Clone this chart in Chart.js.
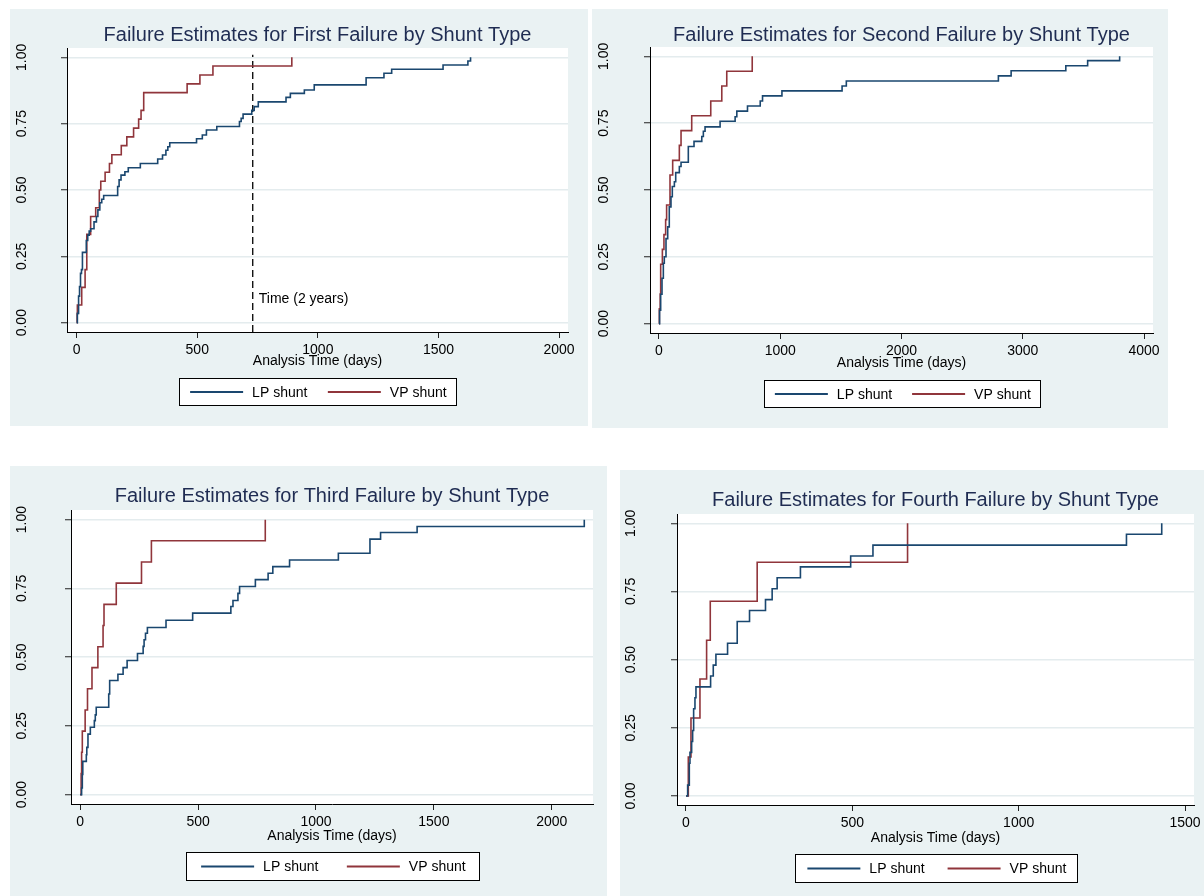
<!DOCTYPE html>
<html>
<head>
<meta charset="utf-8">
<script src="https://cdn.jsdelivr.net/npm/chart.js@4"></script>
<style>
html,body{margin:0;padding:0;background:#fff;}
body{width:1204px;height:896px;position:relative;overflow:hidden;}
canvas{position:absolute;}
</style>
</head>
<body>
<canvas id="c1"></canvas>
<canvas id="c2"></canvas>
<canvas id="c3"></canvas>
<canvas id="c4"></canvas>
<script>
// ---------------- DATA ----------------
const seriesLabels = ['LP shunt', 'VP shunt'];
const chartTitles = [
  'Failure Estimates for First Failure by Shunt Type',
  'Failure Estimates for Second Failure by Shunt Type',
  'Failure Estimates for Third Failure by Shunt Type',
  'Failure Estimates for Fourth Failure by Shunt Type'
];
const xAxisTitle = 'Analysis Time (days)';
const yTicks = [0, 0.25, 0.5, 0.75, 1];
const yTickLabels = ['0.00', '0.25', '0.50', '0.75', '1.00'];
const xTicks1 = [0, 500, 1000, 1500, 2000];
const xTicks2 = [0, 1000, 2000, 3000, 4000];
const xTicks3 = [0, 500, 1000, 1500, 2000];
const xTicks4 = [0, 500, 1000, 1500];

// First failure
const lp1Days = [0,3,8,12,16,20,24,40,46,52,58,72,82,88,96,104,112,170,176,184,200,214,264,336,356,370,378,386,497,521,538,581,675,682,690,726,736,753,868,886,944,985,1200,1274,1306,1519,1622,1633];
const lp1Fail = [0,0.035,0.1,0.136,0.186,0.2,0.265,0.31,0.33,0.345,0.354,0.38,0.4,0.425,0.452,0.465,0.479,0.513,0.538,0.556,0.569,0.584,0.6,0.617,0.632,0.65,0.663,0.678,0.693,0.707,0.726,0.739,0.758,0.77,0.786,0.8,0.814,0.832,0.849,0.864,0.877,0.896,0.923,0.94,0.955,0.971,0.986,1.0];
const vp1Days = [0,2,3,21,35,42,58,79,94,100,118,136,146,185,208,236,257,267,278,458,511,565,892];
const vp1Fail = [0,0.033,0.067,0.133,0.2,0.333,0.4,0.433,0.5,0.533,0.567,0.6,0.633,0.667,0.7,0.733,0.767,0.8,0.867,0.9,0.933,0.967,1.0];

// Second failure
const lp2Days = [0,5,14,25,36,44,58,72,85,99,110,127,138,168,182,242,289,353,366,380,504,628,642,730,835,854,1014,1510,1545,2799,2904,3355,3535,3799];
const lp2Fail = [0,0.05,0.11,0.17,0.226,0.25,0.318,0.362,0.437,0.475,0.513,0.531,0.565,0.588,0.604,0.663,0.682,0.70,0.72,0.736,0.757,0.774,0.795,0.814,0.833,0.852,0.871,0.889,0.908,0.927,0.946,0.965,0.984,1.0];
const vp2Days = [0,3,10,14,28,41,55,63,91,113,168,182,270,427,518,559,769];
const vp2Fail = [0,0.056,0.111,0.222,0.278,0.333,0.389,0.444,0.556,0.611,0.667,0.722,0.778,0.833,0.889,0.944,1.0];

// Third failure
const lp3Days = [0,6,9,11,26,28,33,43,60,64,68,121,125,160,182,199,243,267,271,277,285,364,477,639,648,669,676,743,797,817,888,1095,1229,1274,1429,2138];
const lp3Fail = [0,0.024,0.073,0.121,0.145,0.172,0.22,0.245,0.269,0.29,0.318,0.366,0.415,0.438,0.462,0.488,0.513,0.539,0.563,0.587,0.608,0.634,0.66,0.684,0.706,0.732,0.757,0.782,0.805,0.829,0.853,0.878,0.929,0.953,0.975,1.0];
const vp3Days = [0,4,6,9,21,31,50,75,97,101,153,260,302,785];
const vp3Fail = [0,0.077,0.154,0.231,0.308,0.385,0.462,0.538,0.615,0.692,0.769,0.846,0.923,1.0];

// Fourth failure
const lp4Days = [0,5,10,12,17,20,23,27,30,74,82,90,125,154,191,239,259,274,344,495,562,1324,1430];
const lp4Fail = [0,0.04,0.12,0.16,0.2,0.24,0.32,0.36,0.40,0.44,0.48,0.52,0.56,0.64,0.68,0.72,0.76,0.80,0.84,0.88,0.92,0.96,1.0];
const vp4Days = [0,7,15,42,62,73,214,666];
const vp4Fail = [0,0.143,0.286,0.429,0.571,0.714,0.857,1.0];

// Reference line (2 years) on first panel
const refLineDays = 730;
const refLineLabel = 'Time (2 years)';

// ---------------- STYLE / LAYOUT ----------------
const BLUE = '#1a476f', RED = '#90353b', BG = '#eaf2f3', GRID = '#e4ecee', TITLE = '#1f2c52';
const FONT = '"Liberation Sans", Arial, Helvetica, sans-serif';
Chart.defaults.font.family = FONT;
Chart.defaults.font.size = 14;
Chart.defaults.color = '#000';

const panels = [
  {id:'c1', title:chartTitles[0], xTicks:xTicks1, lp:[lp1Days,lp1Fail], vp:[vp1Days,vp1Fail],
   xMin:-40, xMax:2037, yMin:-0.035, yMax:1.035,
   box:{l:10,t:9,w:578,h:417}, plot:{l:67,r:568,t:48,b:332},
   titleY:35, yLabX:22, tickLabY:350, axisTitleY:361, legend:{t:378,h:27,w:277}, ref:true},
  {id:'c2', title:chartTitles[1], xTicks:xTicks2, lp:[lp2Days,lp2Fail], vp:[vp2Days,vp2Fail],
   xMin:-74, xMax:4074, yMin:-0.035, yMax:1.035,
   box:{l:592,t:9,w:576,h:419}, plot:{l:650,r:1153,t:47,b:333},
   titleY:35, yLabX:604, tickLabY:351, axisTitleY:363, legend:{t:380,h:27,w:276}, ref:false},
  {id:'c3', title:chartTitles[2], xTicks:xTicks3, lp:[lp3Days,lp3Fail], vp:[vp3Days,vp3Fail],
   xMin:-39, xMax:2175, yMin:-0.034, yMax:1.035,
   box:{l:10,t:466,w:597,h:430}, plot:{l:71,r:593,t:510,b:804},
   titleY:496, yLabX:22, tickLabY:822, axisTitleY:836, legend:{t:852,h:28,w:293}, ref:false},
  {id:'c4', title:chartTitles[3], xTicks:xTicks4, lp:[lp4Days,lp4Fail], vp:[vp4Days,vp4Fail],
   xMin:-27, xMax:1527, yMin:-0.033, yMax:1.034,
   box:{l:620,t:470,w:584,h:426}, plot:{l:677,r:1194,t:514,b:805},
   titleY:500, yLabX:631, tickLabY:823, axisTitleY:838, legend:{t:854,h:28,w:282}, ref:false}
];

function pts(days, vals) { return days.map((d, i) => ({x: d, y: vals[i]})); }

const panelBg = {
  id: 'panelBg',
  beforeDraw(chart) {
    const {ctx, chartArea: a} = chart;
    ctx.save();
    ctx.fillStyle = BG;
    ctx.fillRect(0, 0, chart.width, chart.height);
    ctx.fillStyle = '#fff';
    ctx.fillRect(a.left, a.top, a.right - a.left, a.bottom - a.top);
    ctx.restore();
  }
};

const boxLegend = {
  id: 'boxLegend',
  afterDraw(chart, args, opts) {
    const {ctx, chartArea: a} = chart;
    const w = opts.width, h = opts.height, top = opts.top;
    const cx = (a.left + a.right) / 2;
    const left = Math.round(cx - w / 2) + 0.5;
    ctx.save();
    ctx.fillStyle = '#fff';
    ctx.fillRect(left, top + 0.5, w, h);
    ctx.strokeStyle = '#000';
    ctx.lineWidth = 1;
    ctx.strokeRect(left, top + 0.5, w, h);
    const items = chart.data.datasets.filter(d => d.inLegend);
    const half = w / items.length;
    ctx.font = '14px ' + FONT;
    ctx.textBaseline = 'middle';
    ctx.textAlign = 'left';
    items.forEach((ds, i) => {
      const tw = ctx.measureText(ds.label).width;
      const itemW = 53 + 9 + tw;
      const x0 = left + half * i + (half - itemW) / 2;
      const y = top + h / 2 + 0.5;
      ctx.strokeStyle = ds.borderColor;
      ctx.lineWidth = 2;
      ctx.beginPath();
      ctx.moveTo(x0, y);
      ctx.lineTo(x0 + 53, y);
      ctx.stroke();
      ctx.fillStyle = '#000';
      ctx.fillText(ds.label, x0 + 62, y + 1);
    });
    ctx.restore();
  }
};

const refLabel = {
  id: 'refLabel',
  afterDatasetsDraw(chart, args, opts) {
    if (!opts.text) return;
    const {ctx} = chart;
    const x = chart.scales.x.getPixelForValue(opts.x) + 6;
    const y = chart.scales.y.getPixelForValue(opts.y);
    ctx.save();
    ctx.font = '14px ' + FONT;
    ctx.fillStyle = '#000';
    ctx.textAlign = 'left';
    ctx.textBaseline = 'middle';
    ctx.fillText(opts.text, x, y);
    ctx.restore();
  }
};

function buildChart(p) {
  const c = document.getElementById(p.id);
  c.width = p.box.w; c.height = p.box.h;
  c.style.left = p.box.l + 'px'; c.style.top = p.box.t + 'px';
  c.style.width = p.box.w + 'px'; c.style.height = p.box.h + 'px';

  const titleLH = 24, axLH = 14 * 1.2;
  const yW = p.plot.l - p.box.l;
  const padRight = p.box.l + p.box.w - p.plot.r;
  const tTop = p.titleY - p.box.t - titleLH / 2;
  const tBot = p.plot.t - p.titleY - titleLH / 2;
  const xH = p.axisTitleY - p.plot.b + axLH / 2;
  const padBottom = p.box.t + p.box.h - p.plot.b - xH;
  const xTickPad = p.tickLabY - p.plot.b - 6 - axLH / 2;
  const yTickPad = p.plot.l - p.yLabX - 6 - 13.6;

  const datasets = [
    {label: seriesLabels[0], data: pts(p.lp[0], p.lp[1]), borderColor: BLUE, backgroundColor: BLUE,
     borderWidth: 1.6, stepped: 'before', pointRadius: 0, fill: false, inLegend: true},
    {label: seriesLabels[1], data: pts(p.vp[0], p.vp[1]), borderColor: RED, backgroundColor: RED,
     borderWidth: 1.6, stepped: 'before', pointRadius: 0, fill: false, inLegend: true}
  ];
  if (p.ref) {
    datasets.push({label: refLineLabel, data: [{x: refLineDays, y: p.yMin}, {x: refLineDays, y: 1.01}],
      borderColor: '#000', borderWidth: 1.3, borderDash: [7, 4], pointRadius: 0, fill: false, inLegend: false});
  }

  new Chart(c, {
    type: 'line',
    data: {datasets},
    plugins: [panelBg, boxLegend, refLabel],
    options: {
      responsive: false,
      animation: false,
      devicePixelRatio: 1,
      layout: {padding: {left: 0, top: 0, right: padRight, bottom: padBottom}},
      plugins: {
        legend: {display: false},
        tooltip: {enabled: false},
        title: {display: true, text: p.title, color: TITLE, fullSize: false,
                font: {size: 20, weight: 'normal', family: FONT},
                padding: {top: tTop, bottom: tBot}},
        boxLegend: {top: p.legend.t - p.box.t, height: p.legend.h, width: p.legend.w},
        refLabel: p.ref ? {text: refLineLabel, x: refLineDays, y: 0.09} : {text: null}
      },
      scales: {
        x: {
          type: 'linear', min: p.xMin, max: p.xMax,
          afterBuildTicks: s => { s.ticks = p.xTicks.map(v => ({value: v})); },
          afterFit: s => { s.height = xH; s.paddingLeft = 0; s.paddingRight = 0; },
          ticks: {autoSkip: false, minRotation: 0, maxRotation: 0, padding: xTickPad,
                  color: '#000', font: {size: 14}, callback: v => String(v)},
          grid: {display: true, drawOnChartArea: false, drawTicks: true, tickLength: 6,
                 tickColor: '#222', tickWidth: 1},
          border: {display: true, color: '#000', width: 1},
          title: {display: true, text: xAxisTitle, color: '#000', font: {size: 14},
                  padding: {top: 0, bottom: 0}}
        },
        y: {
          type: 'linear', min: p.yMin, max: p.yMax,
          afterBuildTicks: s => { s.ticks = yTicks.map(v => ({value: v})); },
          afterFit: s => { s.width = yW; s.paddingTop = 0; s.paddingBottom = 0; },
          ticks: {autoSkip: false, minRotation: 90, maxRotation: 90, crossAlign: 'center',
                  padding: yTickPad, color: '#000', font: {size: 14},
                  callback: (v, i) => yTickLabels[i]},
          grid: {color: GRID, lineWidth: 1.5, drawTicks: true, tickLength: 6,
                 tickColor: '#222', tickWidth: 1},
          border: {display: true, color: '#000', width: 1}
        }
      }
    }
  });
}

panels.forEach(buildChart);
</script>
</body>
</html>
